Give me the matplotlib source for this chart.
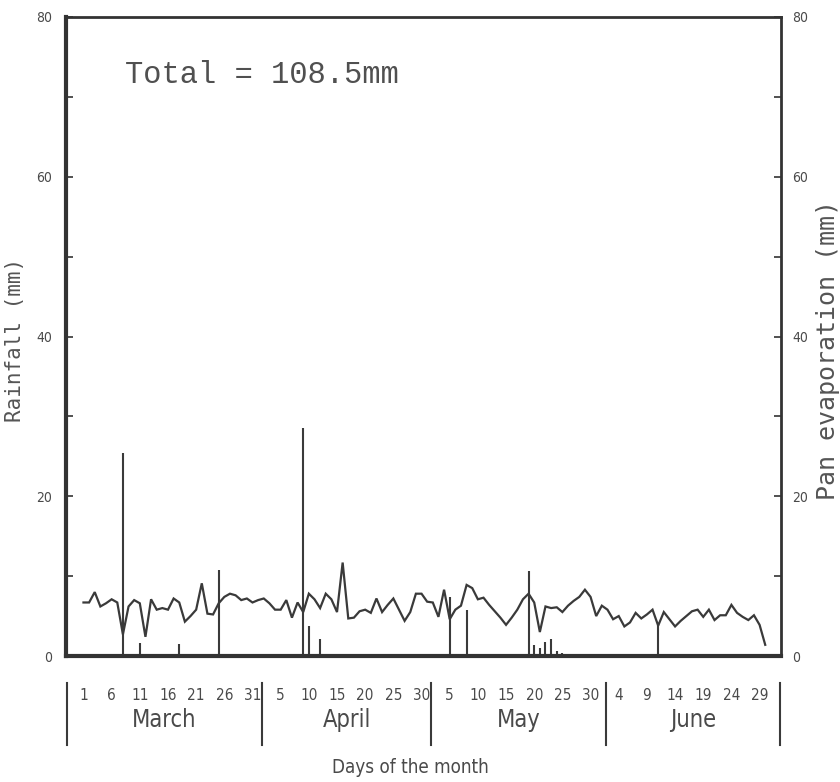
import matplotlib
matplotlib.use("Agg")
import matplotlib.pyplot as plt
import numpy as np
from matplotlib.ticker import MultipleLocator
from matplotlib.transforms import blended_transform_factory

# ---------------- data ----------------
months = ["March", "April", "May", "June"]
month_days = [31, 30, 31, 30]

# daily pan evaporation (mm)
evap_march = [6.7, 6.7, 8.0, 6.2, 6.6, 7.1, 6.7, 2.7, 6.2, 7.0, 6.6, 2.4, 7.1, 5.8, 6.0, 5.8,
              7.2, 6.7, 4.3, 5.0, 5.8, 9.1, 5.3, 5.2, 6.6, 7.4, 7.8, 7.6, 7.0, 7.2, 6.7]
evap_april = [7.0, 7.2, 6.6, 5.8, 5.8, 7.0, 4.8, 6.7, 5.5, 7.8, 7.1, 6.0, 7.8, 7.1, 5.5,
              11.7, 4.7, 4.8, 5.6, 5.8, 5.4, 7.2, 5.5, 6.4, 7.2, 5.8, 4.4, 5.5, 7.8, 7.8]
evap_may = [6.8, 6.7, 4.9, 8.3, 4.6, 5.8, 6.3, 8.9, 8.5, 7.1, 7.3, 6.4, 5.6, 4.8, 3.9, 4.8,
            5.8, 7.1, 7.8, 6.7, 3.0, 6.2, 6.0, 6.1, 5.5, 6.3, 6.9, 7.4, 8.3, 7.4, 5.0]
evap_june = [6.3, 5.8, 4.6, 5.0, 3.7, 4.2, 5.4, 4.7, 5.2, 5.8, 3.8, 5.5, 4.6, 3.7, 4.4,
             5.0, 5.6, 5.8, 4.9, 5.8, 4.5, 5.1, 5.1, 6.4, 5.4, 4.9, 4.5, 5.1, 3.9, 1.4]

# daily rainfall events (mm)
rain_month = ["March", "March", "March", "March", "April", "April", "April",
              "May", "May", "May", "May", "May", "May", "May", "May", "May", "May",
              "May", "May", "June", "June"]
rain_day = [8, 11, 18, 25, 9, 10, 12,
            3, 5, 8, 19, 20, 21, 22, 23, 24, 25, 28, 30, 8, 11]
rain_mm = [25.4, 1.6, 1.5, 10.8, 28.6, 3.7, 2.1,
           0.3, 7.4, 5.8, 10.7, 1.4, 1.0, 1.8, 2.1, 0.6, 0.4, 0.3, 0.3, 0.3, 3.9]

tick_days = {"March": [1, 6, 11, 16, 21, 26, 31],
             "April": [5, 10, 15, 20, 25, 30],
             "May": [5, 10, 15, 20, 25, 30],
             "June": [4, 9, 14, 19, 24, 29]}

total_text = "Total = 108.5mm"
x_label = "Days of the month"
y_left_label = "Rainfall (mm)"
y_right_label = "Pan evaporation (mm)"

# ---------------- helpers ----------------
offsets = dict(zip(months, np.concatenate([[0], np.cumsum(month_days)[:-1]])))
evap = evap_march + evap_april + evap_may + evap_june
evap_x = np.arange(1, len(evap) + 1)
rain_x = [offsets[m] + d for m, d in zip(rain_month, rain_day)]

tick_pos, tick_lab = [], []
for m in months:
    for d in tick_days[m]:
        tick_pos.append(offsets[m] + d)
        tick_lab.append(str(d))

INK = "#3a3a3a"
TXT = "#4a4a4a"
FAM = ["DejaVu Sans"]
STRETCH = "condensed"

fig = plt.figure(figsize=(8.4, 7.82), dpi=100)
fig.patch.set_facecolor("white")
ax = fig.add_axes([66 / 840, 1 - 656 / 782, 715 / 840, 639 / 782])

ax.plot(evap_x, evap, color=INK, lw=1.6, solid_joinstyle="miter")
ax.vlines(rain_x, 0, rain_mm, color=INK, lw=1.5)

ax.set_xlim(-2.1, 124.8)
ax.set_ylim(0, 80)

for side, lw in [("left", 3.0), ("bottom", 3.0), ("top", 2.0), ("right", 2.0)]:
    ax.spines[side].set_linewidth(lw)
    ax.spines[side].set_color("#333333")

ax.set_xticks(tick_pos)
ax.set_xticklabels(tick_lab, family=FAM, stretch=STRETCH, fontsize=11, color=TXT)
ax.tick_params(axis="x", length=0, pad=23)

ax.yaxis.set_major_locator(MultipleLocator(20))
ax.yaxis.set_minor_locator(MultipleLocator(10))
ax.tick_params(axis="y", which="both", direction="in", length=5, width=1.2,
               color="#333333", labelsize=10, labelcolor=TXT, pad=10)
for lab in ax.get_yticklabels():
    lab.set_family(FAM)
    lab.set_stretch(STRETCH)

ax2 = ax.twinx()
ax2.set_ylim(0, 80)
ax2.yaxis.set_major_locator(MultipleLocator(20))
ax2.yaxis.set_minor_locator(MultipleLocator(10))
ax2.tick_params(axis="y", which="both", direction="in", length=5, width=1.2,
                color="#333333", labelsize=10, labelcolor=TXT, pad=8)
for lab in ax2.get_yticklabels():
    lab.set_family(FAM)
    lab.set_stretch(STRETCH)
for s in ax2.spines.values():
    s.set_visible(False)

# month separators and labels below the axis
trans = blended_transform_factory(ax.transData, ax.transAxes)
x0, x1 = ax.get_xlim()
bounds = [x0 + 0.15] + [offsets[m] + 1.7 for m in months[1:]] + [x1 - 0.15]
for b in bounds:
    ax.plot([b, b], [-0.042, -0.139], transform=trans, color=INK, lw=1.5,
            clip_on=False)
for i, m in enumerate(months):
    cx = (bounds[i] + bounds[i + 1]) / 2
    ax.text(cx, -0.100, m, transform=trans, ha="center", va="center",
            family=FAM, stretch=STRETCH, fontsize=17, color=TXT)

ax.text(0.481, -0.175, x_label, transform=ax.transAxes, ha="center", va="center",
        family=FAM, stretch=STRETCH, fontsize=13.5, color=TXT)

ax.text(0.0825, 0.8967, total_text, transform=ax.transAxes, ha="left",
        va="baseline", family=["Liberation Mono", "DejaVu Sans Mono"],
        fontsize=22, color="#505050")

fig.text(15 / 840, 1 - 340 / 782, y_left_label, rotation=90, ha="center",
         va="center", family=["DejaVu Sans Mono"], fontsize=15, color="#555555")
fig.text(828 / 840, 1 - 350 / 782, y_right_label, rotation=90, ha="center",
         va="center", family=["DejaVu Sans Mono"], fontsize=18, color="#555555")

fig.savefig("out.png", dpi=100, facecolor="white")
